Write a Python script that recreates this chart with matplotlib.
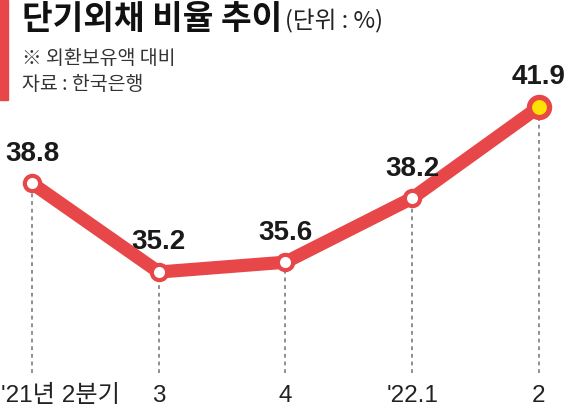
import matplotlib.pyplot as plt
from matplotlib.patches import Rectangle

# data
quarters = ["'21년 2분기", "3", "4", "'22.1", "2"]
ratio = [38.8, 35.2, 35.6, 38.2, 41.9]

title = "단기외채 비율 추이"
unit = "(단위 : %)"
note = "※ 외환보유액 대비"
source = "자료 : 한국은행"

RED = "#E8474A"
FONTS = ["Liberation Sans", "Noto Sans CJK KR"]

plt.rcParams["font.family"] = FONTS

fig = plt.figure(figsize=(5.7, 4.13), dpi=100)
ax = fig.add_axes([0, 0, 1, 1])
ax.set_xlim(-0.2525, 4.245)
ax.set_ylim(29.48, 46.24)
ax.axis("off")

xs = list(range(len(ratio)))
base = 31.1

# dashed guides
for x, v in zip(xs, ratio):
    ax.plot([x, x], [base, v], color="#707070", lw=1.1, ls=(0, (2.5, 2.5)), zorder=1)

ax.plot(xs, ratio, color=RED, lw=9.5, solid_capstyle="round", zorder=2)
ax.plot(xs[:-1], ratio[:-1], "o", ms=11, mfc="white", mec=RED, mew=3, zorder=3)
ax.plot(xs[-1], ratio[-1], "o", ms=14.5, mfc="#FFE100", mec=RED, mew=3.8, zorder=3)

for x, v in zip(xs, ratio):
    ax.text(x, v + 1.2, "{:.1f}".format(v), ha="center", va="center",
            fontsize=20, fontweight="bold", color="#1a1a1a")

for i, (x, lab) in enumerate(zip(xs, quarters)):
    if i == 0:
        ax.text(-0.245, 30.17, lab, ha="left", va="center", fontsize=17.5, color="#222222")
    else:
        ax.text(x, 30.17, lab, ha="center", va="center", fontsize=17.5, color="#222222")

# header
fig.patches.append(Rectangle((0, 1 - 100 / 413), 8 / 570, 100 / 413,
                             transform=fig.transFigure, color=RED, zorder=0))
fig.text(22 / 570, 1 - 20 / 413, title, ha="left", va="center", fontsize=24,
         fontweight="bold", family=["Noto Sans CJK KR"], color="#111111")
fig.text(285 / 570, 1 - 21 / 413, unit, ha="left", va="center", fontsize=17,
         family=["Noto Sans CJK KR"], color="#222222")
fig.text(22 / 570, 1 - 58 / 413, note, ha="left", va="center", fontsize=14,
         family=["Noto Sans CJK KR"], color="#333333")
fig.text(22 / 570, 1 - 85 / 413, source, ha="left", va="center", fontsize=14,
         family=["Noto Sans CJK KR"], color="#333333")

fig.savefig("out.png", dpi=100)
